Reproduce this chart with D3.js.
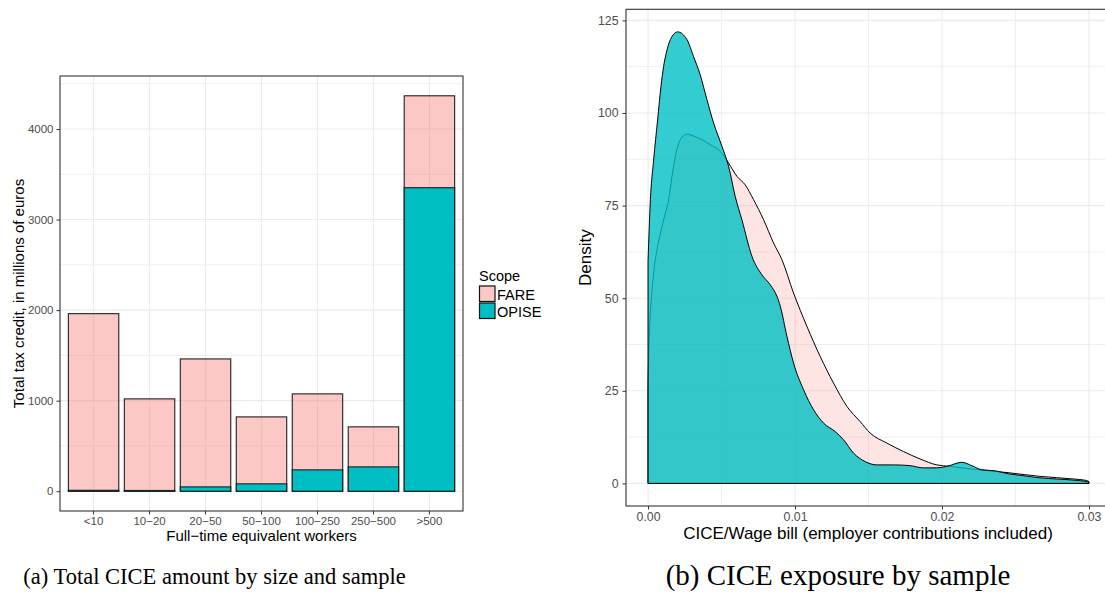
<!DOCTYPE html>
<html>
<head>
<meta charset="utf-8">
<script src="https://cdn.jsdelivr.net/npm/d3@7"></script>
<style>
  body { margin: 0; background: #fff; }
  text { font-family: "Liberation Sans", Arial, Helvetica, sans-serif; }
  .caption { font-family: "Liberation Serif", "Times New Roman", serif; }
</style>
</head>
<body>
<svg id="chart" width="1105" height="594"></svg>
<script>
// ---- Panel (a): total tax credit by firm size ----
const sizeClasses = ["<10", "10−20", "20−50", "50−100", "100−250", "250−500", ">500"];
const fareTotal  = [1961, 1020, 1461, 821, 1075, 711, 4367];   // millions of euros, full FARE scope
const opiseTotal = [10, 8, 48, 82, 236, 269, 3352];           // millions of euros, OPISE subsample
const scopes = ["FARE", "OPISE"];
const amountTicks = [0, 1000, 2000, 3000, 4000];

// ---- Panel (b): density of CICE / wage bill ----
const opiseX = [0, 0.00016, 0.00038, 0.00065, 0.00088, 0.00106, 0.00124, 0.00152, 0.00201, 0.00265,
  0.0031, 0.00355, 0.004, 0.00446, 0.00503, 0.00548, 0.00593, 0.00639, 0.00707, 0.00775,
  0.00832, 0.00877, 0.009, 0.00945, 0.0099, 0.01058, 0.01126, 0.01194, 0.01273, 0.0133,
  0.01398, 0.01477, 0.01557, 0.0167, 0.01783, 0.01874, 0.01965, 0.02033, 0.02135, 0.02203,
  0.0227, 0.02361, 0.02451, 0.02553, 0.02667, 0.0278, 0.02893, 0.02995, 0.03];
const opiseDensity = [60, 76.6, 87.3, 98.1, 107.2, 112.6, 116.2, 119.8, 121.9, 119.8,
  115.2, 110.3, 103.7, 97.3, 91.0, 85.6, 77.5, 71.1, 61.3, 56.3,
  53.6, 50.5, 47.8, 39.7, 32.5, 25.3, 19.9, 16.3, 14.0, 11.8,
  8.2, 5.9, 5.0, 5.0, 4.8, 4.2, 4.2, 4.6, 5.7, 4.8,
  3.7, 3.4, 2.6, 2.1, 1.5, 1.2, 0.9, 0.4, 0.3];
const fareX = [0, 0.00004, 0.00038, 0.00061, 0.00084, 0.00118, 0.0014, 0.00163, 0.00186, 0.0022,
  0.00265, 0.0031, 0.00367, 0.00424, 0.0048, 0.00526, 0.00548, 0.00605, 0.00661, 0.00718,
  0.00786, 0.00854, 0.00911, 0.0099, 0.01081, 0.01171, 0.01262, 0.01353, 0.01443, 0.01511,
  0.01625, 0.01738, 0.01851, 0.01965, 0.02055, 0.02203, 0.0227, 0.0245, 0.02667, 0.02893,
  0.02984, 0.03];
const fareDensity = [25, 34.3, 56.8, 63.1, 67.6, 73.0, 76.6, 82.9, 88.3, 92.8,
  94.3, 93.8, 92.8, 91.4, 90.1, 87.8, 86.5, 82.9, 80.6, 76.6,
  71.2, 64.9, 60.4, 51.4, 42.4, 34.3, 27.1, 20.8, 16.7, 13.6,
  10.9, 8.6, 6.6, 5.0, 4.6, 3.9, 3.6, 2.9, 1.9, 1.2,
  0.8, 0.5];
const exposureTicks = [0, 0.01, 0.02, 0.03];
const exposureTickLabels = ["0.00", "0.01", "0.02", "0.03"];
const densityTicks = [0, 25, 50, 75, 100, 125];

const svg = d3.select("#chart");
svg.append("rect").attr("width", 1105).attr("height", 594).attr("fill", "#fff");

const fillColor = d3.scaleOrdinal().domain(scopes).range(["#F8766D", "#00BFC4"]);
const gridColor = "#ebebeb";
const tickColor = "#333333";
const labelColor = "#4d4d4d";

function styleAxis(fontSize) {
  return g => {
    g.select(".domain").remove();
    g.selectAll(".tick line").attr("stroke", tickColor).attr("stroke-width", 1);
    g.selectAll(".tick text").attr("fill", labelColor).attr("font-size", fontSize)
      .attr("font-family", '"Liberation Sans", Arial, sans-serif');
  };
}

// ================= Panel (a) =================
{
  const L = 60, R = 463, T = 76, B = 511;
  const ymax = d3.max(fareTotal);
  const x = d3.scaleBand().domain(sizeClasses).range([L, R]).paddingInner(0.1).paddingOuter(0.15);
  const y = d3.scaleLinear().domain([-0.05 * ymax, ymax * 1.05]).range([B, T]);
  const g = svg.append("g");

  // grid: minor then major
  const minor = d3.range(500, ymax * 1.05, 1000);
  g.selectAll("line.minor").data(minor).join("line")
    .attr("x1", L).attr("x2", R).attr("y1", d => y(d)).attr("y2", d => y(d))
    .attr("stroke", gridColor).attr("stroke-width", 0.8);
  g.selectAll("line.majorY").data(amountTicks).join("line")
    .attr("x1", L).attr("x2", R).attr("y1", d => y(d)).attr("y2", d => y(d))
    .attr("stroke", gridColor).attr("stroke-width", 1.1);
  g.selectAll("line.majorX").data(sizeClasses).join("line")
    .attr("x1", d => x(d) + x.bandwidth() / 2).attr("x2", d => x(d) + x.bandwidth() / 2)
    .attr("y1", T).attr("y2", B)
    .attr("stroke", gridColor).attr("stroke-width", 1.1);

  const rows = sizeClasses.map((c, i) => ({ c, fare: fareTotal[i], opise: opiseTotal[i] }));
  // full-scope bars (translucent), then OPISE subsample on top
  g.selectAll("rect.fare").data(rows).join("rect")
    .attr("x", d => x(d.c)).attr("width", x.bandwidth())
    .attr("y", d => y(d.fare)).attr("height", d => y(0) - y(d.fare))
    .attr("fill", fillColor("FARE")).attr("fill-opacity", 0.4)
    .attr("stroke", "#111").attr("stroke-opacity", 0.85).attr("stroke-width", 1.2);
  g.selectAll("rect.opise").data(rows).join("rect")
    .attr("x", d => x(d.c)).attr("width", x.bandwidth())
    .attr("y", d => y(d.opise)).attr("height", d => y(0) - y(d.opise))
    .attr("fill", fillColor("OPISE"))
    .attr("stroke", "#111").attr("stroke-opacity", 0.85).attr("stroke-width", 1.2);

  g.append("rect").attr("x", L).attr("y", T).attr("width", R - L).attr("height", B - T)
    .attr("fill", "none").attr("stroke", "#333").attr("stroke-width", 1.1);

  g.append("g").attr("transform", `translate(${L},0)`)
    .call(d3.axisLeft(y).tickValues(amountTicks).tickFormat(d3.format("d")).tickSize(3.5).tickPadding(3))
    .call(styleAxis(11.5));
  g.append("g").attr("transform", `translate(0,${B})`)
    .call(d3.axisBottom(x).tickSize(3.5).tickPadding(2))
    .call(styleAxis(11.5));

  g.append("text").attr("transform", `translate(23.5,${(T + B) / 2}) rotate(-90)`)
    .attr("text-anchor", "middle").attr("font-size", 15).attr("fill", "#000")
    .text("Total tax credit, in millions of euros");
  g.append("text").attr("x", (L + R) / 2).attr("y", 541)
    .attr("text-anchor", "middle").attr("font-size", 15).attr("fill", "#000")
    .text("Full−time equivalent workers");

  // legend
  const lg = g.append("g").attr("transform", "translate(479,0)");
  lg.append("text").attr("x", 0).attr("y", 281).attr("font-size", 14.5).text("Scope");
  scopes.forEach((s, i) => {
    const yy = 286 + i * 17;
    lg.append("rect").attr("x", 0.5).attr("y", yy).attr("width", 15.5).attr("height", 15.5)
      .attr("fill", "#fff");
    lg.append("rect").attr("x", 0.5).attr("y", yy).attr("width", 15.5).attr("height", 15.5)
      .attr("fill", fillColor(s)).attr("fill-opacity", s === "FARE" ? 0.4 : 1)
      .attr("stroke", "#111").attr("stroke-width", 1.2);
    lg.append("text").attr("x", 18).attr("y", yy + 13.5).attr("font-size", 14.5).text(s);
  });

  svg.append("text").attr("class", "caption").attr("x", 214.5).attr("y", 584)
    .attr("text-anchor", "middle").attr("font-size", 22.5).attr("fill", "#000")
    .text("(a) Total CICE amount by size and sample");
}

// ================= Panel (b) =================
{
  const L = 626, R = 1111, T = 9.3, B = 506;
  const xmax = d3.max(opiseX.concat(fareX));
  const dmax = d3.max(opiseDensity.concat(fareDensity));
  const x = d3.scaleLinear().domain([-0.05 * xmax, xmax * 1.05]).range([L, R]);
  const y = d3.scaleLinear().domain([-0.05 * dmax, dmax * 1.05]).range([B, T]);
  const g = svg.append("g");

  const minorX = [0.005, 0.015, 0.025];
  const minorY = [12.5, 37.5, 62.5, 87.5, 112.5];
  g.selectAll("line.mx").data(minorX).join("line")
    .attr("x1", d => x(d)).attr("x2", d => x(d)).attr("y1", T).attr("y2", B)
    .attr("stroke", gridColor).attr("stroke-width", 0.8);
  g.selectAll("line.my").data(minorY).join("line")
    .attr("x1", L).attr("x2", R).attr("y1", d => y(d)).attr("y2", d => y(d))
    .attr("stroke", gridColor).attr("stroke-width", 0.8);
  g.selectAll("line.Mx").data(exposureTicks).join("line")
    .attr("x1", d => x(d)).attr("x2", d => x(d)).attr("y1", T).attr("y2", B)
    .attr("stroke", gridColor).attr("stroke-width", 1.1);
  g.selectAll("line.My").data(densityTicks).join("line")
    .attr("x1", L).attr("x2", R).attr("y1", d => y(d)).attr("y2", d => y(d))
    .attr("stroke", gridColor).attr("stroke-width", 1.1);

  const area = d3.area().x(d => x(d[0])).y0(y(0)).y1(d => y(d[1])).curve(d3.curveMonotoneX);
  // closed outline: baseline, vertical sides and the curve
  function outline(pts) {
    const line = d3.line().x(d => x(d[0])).y(d => y(d[1])).curve(d3.curveMonotoneX);
    const first = pts[0], last = pts[pts.length - 1];
    return `M${x(first[0])},${y(0)}L` + line(pts).slice(1) + `L${x(last[0])},${y(0)}Z`;
  }
  const farePts = fareX.map((v, i) => [v, fareDensity[i]]);
  const opisePts = opiseX.map((v, i) => [v, opiseDensity[i]]);

  g.append("path").attr("d", area(farePts)).attr("fill", fillColor("FARE")).attr("fill-opacity", 0.2);
  g.append("path").attr("d", outline(farePts)).attr("fill", "none")
    .attr("stroke", "#000").attr("stroke-width", 1).attr("stroke-linejoin", "round");
  g.append("path").attr("d", area(opisePts)).attr("fill", fillColor("OPISE")).attr("fill-opacity", 0.8);
  g.append("path").attr("d", outline(opisePts)).attr("fill", "none")
    .attr("stroke", "#000").attr("stroke-width", 1).attr("stroke-linejoin", "round");

  g.append("rect").attr("x", L).attr("y", T).attr("width", R - L).attr("height", B - T)
    .attr("fill", "none").attr("stroke", "#333").attr("stroke-width", 1.1);

  g.append("g").attr("transform", `translate(${L},0)`)
    .call(d3.axisLeft(y).tickValues(densityTicks).tickSize(3.5).tickPadding(4))
    .call(styleAxis(12.3));
  g.append("g").attr("transform", `translate(0,${B})`)
    .call(d3.axisBottom(x).tickValues(exposureTicks)
      .tickFormat((d, i) => exposureTickLabels[i]).tickSize(3.5).tickPadding(3))
    .call(styleAxis(12.3));

  g.append("text").attr("transform", `translate(590.5,${(T + B) / 2}) rotate(-90)`)
    .attr("text-anchor", "middle").attr("font-size", 17).attr("fill", "#000")
    .text("Density");
  g.append("text").attr("x", 868).attr("y", 539)
    .attr("text-anchor", "middle").attr("font-size", 17).attr("fill", "#000")
    .text("CICE/Wage bill (employer contributions included)");

  svg.append("text").attr("class", "caption").attr("x", 838).attr("y", 585)
    .attr("text-anchor", "middle").attr("font-size", 29).attr("fill", "#000")
    .text("(b) CICE exposure by sample");
}
</script>
</body>
</html>
